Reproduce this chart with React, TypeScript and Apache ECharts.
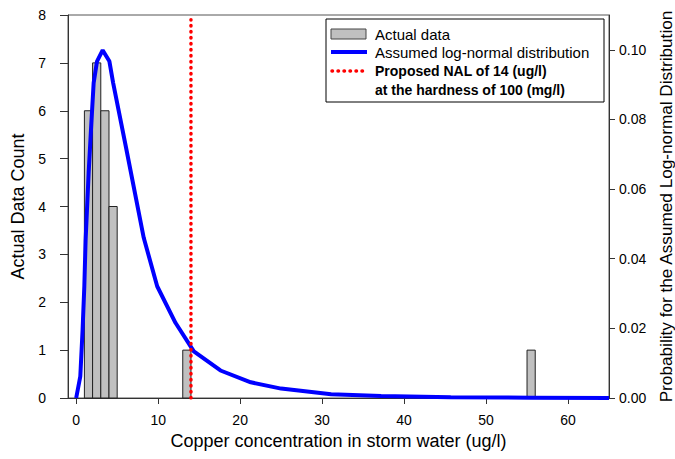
import React, { useEffect, useRef } from "react";
import * as echarts from "echarts";

const binStart = [1, 2, 3, 4, 13, 55];
const binEnd = [2, 3, 4, 5, 14, 56];
const binCount = [6, 7, 6, 4, 1, 1];

const curveX = [0, 0.5, 0.78, 0.99, 1.15, 1.52, 1.85, 2.13, 2.54, 3.23, 4.05, 4.5, 6.09, 8.24, 9.88, 12.11, 14.35, 17.6, 21.3, 25.0, 31.1, 37.2, 45.7, 55.5, 65];
const curveY = [0, 0.0062, 0.0196, 0.032, 0.0455, 0.0647, 0.079, 0.0905, 0.0967, 0.0999, 0.0967, 0.0906, 0.0718, 0.046, 0.0321, 0.0216, 0.0134, 0.0079, 0.0045, 0.0027, 0.0011, 0.0006, 0.0002, 0.0001, 0];

const nalX = [14, 14];
const nalY = [0, 7.9];

const xTicks = [0, 10, 20, 30, 40, 50, 60];
const rightTicks = [0, 0.02, 0.04, 0.06, 0.08, 0.1];

const FONT = '"Liberation Sans", Arial, sans-serif';

export default function App() {
  const ref = useRef<HTMLDivElement>(null);
  useEffect(() => {
    const chart = echarts.init(ref.current!, null, { renderer: "svg" });
    const axisLineStyle = { color: "#333", width: 1 };
    chart.setOption({
      animation: false,
      backgroundColor: "#fff",
      textStyle: { fontFamily: FONT },
      grid: { left: 68, right: 66, top: 15, bottom: 61, show: true, borderColor: "#555", borderWidth: 1, backgroundColor: "transparent", outerBoundsMode: "none", containLabel: false },
      xAxis: {
        type: "value", min: -1, max: 65,
        name: "Copper concentration in storm water (ug/l)",
        nameLocation: "middle", nameGap: 33,
        nameTextStyle: { fontSize: 18, color: "#000", fontFamily: FONT },
        axisLine: { show: true, onZero: false, lineStyle: axisLineStyle },
        axisTick: { show: true, length: 6, customValues: xTicks, lineStyle: axisLineStyle },
        axisLabel: { fontSize: 14, color: "#000", margin: 15, customValues: xTicks, fontFamily: FONT },
        splitLine: { show: false },
      },
      yAxis: [
        {
          type: "value", min: 0, max: 8, interval: 1,
          name: "Actual Data Count", nameLocation: "middle", nameGap: 34,
          nameTextStyle: { fontSize: 18, color: "#000", fontFamily: FONT },
          axisLine: { show: true, onZero: false, lineStyle: axisLineStyle },
          axisTick: { show: true, length: 8, lineStyle: axisLineStyle },
          axisLabel: { fontSize: 14, color: "#000", margin: 22, fontFamily: FONT },
          splitLine: { show: false },
        },
        {
          type: "value", min: 0, max: 0.11, position: "right",
          name: "Probability for the Assumed Log-normal Distribution", nameLocation: "middle", nameGap: 46,
          nameTextStyle: { fontSize: 17.2, color: "#000", fontFamily: FONT },
          axisLine: { show: true, onZero: false, lineStyle: axisLineStyle },
          axisTick: { show: true, length: 6, customValues: rightTicks, lineStyle: axisLineStyle },
          axisLabel: { fontSize: 14, color: "#000", margin: 10, customValues: rightTicks, formatter: (v: number) => v.toFixed(2), fontFamily: FONT },
          splitLine: { show: false },
        },
      ],
      series: [
        {
          type: "custom",
          name: "Actual data",
          xAxisIndex: 0, yAxisIndex: 0,
          data: binStart.map((s, i) => [s, binEnd[i], binCount[i]]),
          encode: { x: [0, 1], y: 2 },
          renderItem: (params: any, api: any) => {
            const p0 = api.coord([api.value(0), 0]);
            const p1 = api.coord([api.value(1), api.value(2)]);
            return {
              type: "rect",
              shape: { x: p0[0], y: p1[1], width: p1[0] - p0[0], height: p0[1] - p1[1] },
              style: { fill: "#c0c0c0", stroke: "#222", lineWidth: 1 },
            };
          },
          z: 2,
        },
        {
          type: "line",
          name: "Assumed log-normal distribution",
          yAxisIndex: 1,
          data: curveX.map((x, i) => [x, curveY[i]]),
          showSymbol: false,
          lineStyle: { color: "#0000ff", width: 4 },
          itemStyle: { color: "#0000ff" },
          z: 3,
        },
        {
          type: "line",
          name: "Proposed NAL",
          yAxisIndex: 0,
          data: nalX.map((x, i) => [x, nalY[i]]),
          showSymbol: false,
          lineStyle: { color: "#ff0000", width: 3.5, type: [0.5, 5.5], cap: "round" },
          z: 4,
        },
      ],
      graphic: [
        { type: "rect", shape: { x: 326, y: 19, width: 278, height: 83 }, style: { fill: "#fff", stroke: "#000", lineWidth: 1 }, z: 10 },
        { type: "rect", shape: { x: 331, y: 29, width: 35, height: 10 }, style: { fill: "#c0c0c0", stroke: "#444", lineWidth: 1 }, z: 11 },
        { type: "text", x: 375, y: 34, style: { text: "Actual data", font: `15px ${FONT}`, fill: "#000", verticalAlign: "middle" }, z: 11 },
        { type: "line", shape: { x1: 331, y1: 52, x2: 367, y2: 52 }, style: { stroke: "#0000ff", lineWidth: 4 }, z: 11 },
        { type: "text", x: 375, y: 52, style: { text: "Assumed log-normal distribution", font: `15px ${FONT}`, fill: "#000", verticalAlign: "middle" }, z: 11 },
        { type: "line", shape: { x1: 332, y1: 71, x2: 365, y2: 71 }, style: { stroke: "#ff0000", lineWidth: 3.5, lineDash: [0.5, 5.5], lineCap: "round" }, z: 11 },
        { type: "text", x: 375, y: 71, style: { text: "Proposed NAL of 14 (ug/l)", font: `bold 14px ${FONT}`, fill: "#000", verticalAlign: "middle" }, z: 11 },
        { type: "text", x: 375, y: 90, style: { text: "at the hardness of 100 (mg/l)", font: `bold 14px ${FONT}`, fill: "#000", verticalAlign: "middle" }, z: 11 },
      ],
    });
    return () => chart.dispose();
  }, []);
  return <div ref={ref} style={{ position: "fixed", left: 0, top: 0, width: 675, height: 459 }} />;
}
